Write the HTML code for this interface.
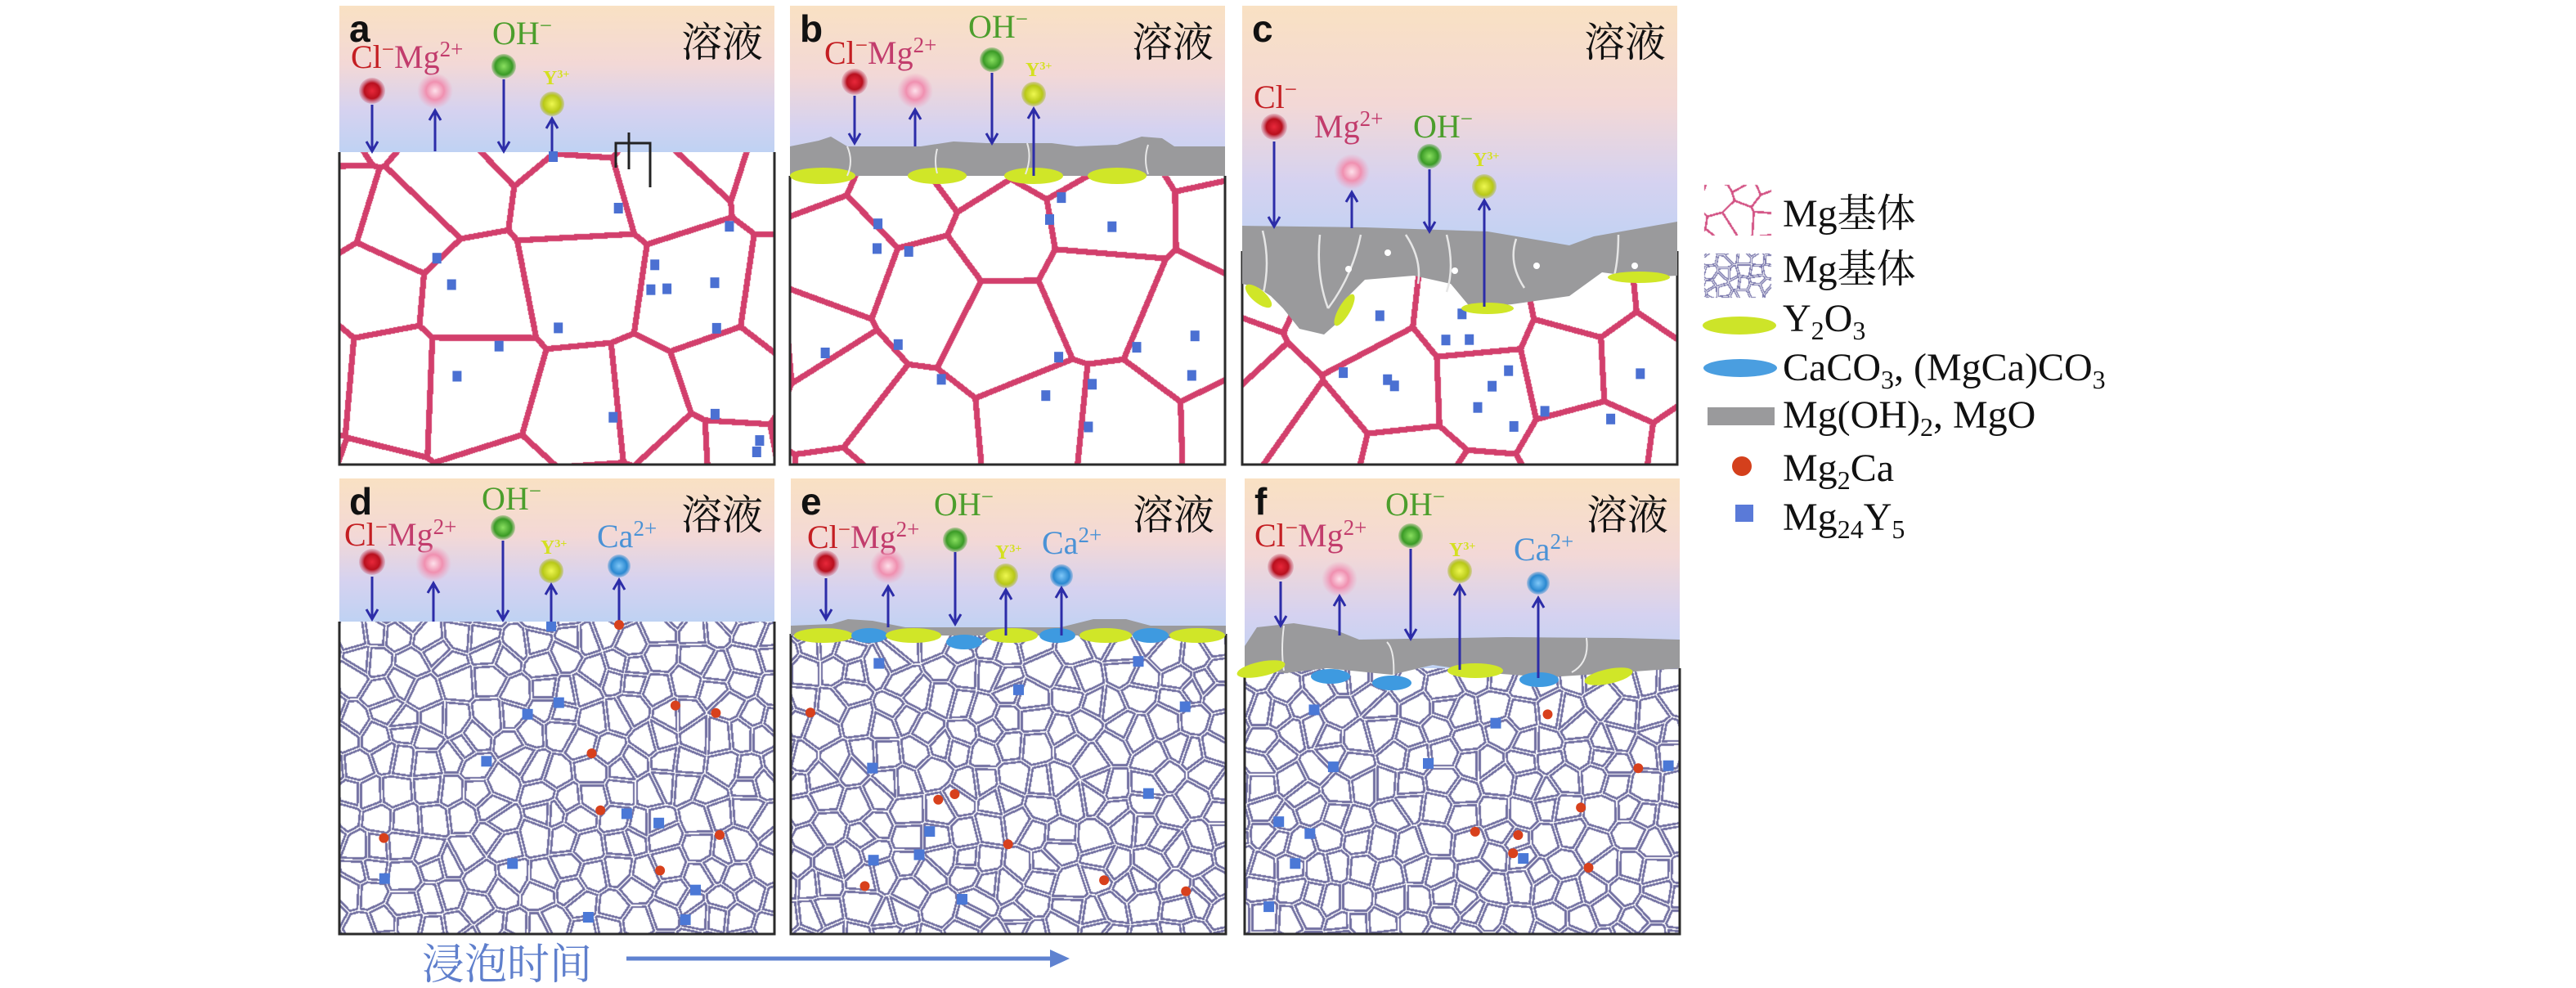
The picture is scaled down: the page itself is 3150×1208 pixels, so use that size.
<!DOCTYPE html>
<html><head><meta charset="utf-8">
<style>
html,body{margin:0;padding:0;background:#fff;}
#wrap{position:relative;width:3150px;height:1208px;}
#cv,#s{position:absolute;left:0;top:0;display:block;}
text{font-family:"Liberation Serif","Noto Serif CJK SC",serif;}
.cjk{font-family:"Liberation Serif","Noto Serif CJK SC",serif;}
.lt{font-family:"Liberation Sans",sans-serif;font-weight:bold;}
</style></head>
<body>
<div id="wrap">
<canvas id="cv" width="3150" height="1208"></canvas>
<svg id="s" width="3150" height="1208" viewBox="0 0 3150 1208" xmlns="http://www.w3.org/2000/svg">
<defs>
<linearGradient id="sol" x1="0" y1="0" x2="0" y2="1">
<stop offset="0" stop-color="#f9e1c3"/><stop offset="0.4" stop-color="#f3d8d6"/>
<stop offset="0.72" stop-color="#d5d2f0"/><stop offset="1" stop-color="#bfd2f3"/>
</linearGradient>
<radialGradient id="gCl"><stop offset="0" stop-color="#e8283a"/><stop offset="0.6" stop-color="#b8101e"/><stop offset="1" stop-color="#c04060" stop-opacity="0.2"/></radialGradient>
<radialGradient id="gMg"><stop offset="0" stop-color="#fde0ea"/><stop offset="0.5" stop-color="#f090b0"/><stop offset="1" stop-color="#f0a0c0" stop-opacity="0"/></radialGradient>
<radialGradient id="gOH"><stop offset="0" stop-color="#8ae060"/><stop offset="0.7" stop-color="#3a9a26"/><stop offset="1" stop-color="#3a9a26" stop-opacity="0.3"/></radialGradient>
<radialGradient id="gY"><stop offset="0" stop-color="#eef850"/><stop offset="0.7" stop-color="#b8c818"/><stop offset="1" stop-color="#a0b010" stop-opacity="0.3"/></radialGradient>
<radialGradient id="gCa"><stop offset="0" stop-color="#80c8f8"/><stop offset="0.7" stop-color="#2a88d0"/><stop offset="1" stop-color="#2a88d0" stop-opacity="0.3"/></radialGradient>
</defs>
<g id="content"></g>
</svg>
</div>
<script>
(function(){
var out=[];
var seed=7;
function rnd(){seed=(seed*16807)%2147483647;return (seed-1)/2147483646;}
function P(s){out.push(s);}
var W=532;
var panels=[
 {id:'a',x:415,y:7,h:561,row:1},
 {id:'b',x:966,y:7,h:561,row:1},
 {id:'c',x:1519,y:7,h:561,row:1},
 {id:'d',x:415,y:585,h:557,row:2},
 {id:'e',x:967,y:585,h:557,row:2},
 {id:'f',x:1522,y:585,h:557,row:2}
];
var surf={a:179,b:208,c:300,d:175,e:190,f:232};
var cv=document.getElementById('cv'),ctx=cv.getContext('2d');
ctx.fillStyle='#fff';ctx.fillRect(0,0,3150,1208);

function voronoi(x0,y0,w,h,cs,col,tmin,tmax){
 var gx=Math.ceil(w/cs)+4,gy=Math.ceil(h/cs)+4,S=[];
 for(var j=0;j<gy;j++){S[j]=[];for(var i=0;i<gx;i++){
  S[j][i]=[(i-2+0.1+rnd()*0.8)*cs,(j-2+0.1+rnd()*0.8)*cs];}}
 var img=ctx.getImageData(x0,y0,w,h),d=img.data;
 for(var y=0;y<h;y++)for(var x=0;x<w;x++){
  var ci=Math.floor(x/cs)+2,cj=Math.floor(y/cs)+2,best=1e9,bs=null,cand=[];
  for(var dj=-2;dj<=2;dj++)for(var di=-2;di<=2;di++){var s=S[cj+dj]&&S[cj+dj][ci+di];if(!s)continue;cand.push(s);
   var q=(x-s[0])*(x-s[0])+(y-s[1])*(y-s[1]);if(q<best){best=q;bs=s;}}
  var t=1e9;
  for(var k=0;k<cand.length;k++){var s=cand[k];if(s===bs)continue;
   var q=(x-s[0])*(x-s[0])+(y-s[1])*(y-s[1]);
   var L=Math.sqrt((s[0]-bs[0])*(s[0]-bs[0])+(s[1]-bs[1])*(s[1]-bs[1]));
   var tt=(q-best)/(2*L);if(tt<t)t=tt;}
  if(t>=tmin&&t<=tmax){var o=(y*w+x)*4;d[o]=col[0];d[o+1]=col[1];d[o+2]=col[2];d[o+3]=255;}
 }
 ctx.putImageData(img,x0,y0);
}
function bigGrains(px,py,top,h,id){
 voronoi(px,py+top,W,h-top,115,[210,63,108],0,3.6);
 for(var i=0;i<16;i++){var x=px+15+rnd()*(W-35),y=py+top+15+rnd()*(h-top-35);
  P('<rect x="'+x.toFixed(1)+'" y="'+y.toFixed(1)+'" width="11" height="13" fill="#4b70d2"/>');}
}
function smallGrains(px,py,top,h,id){
 voronoi(px,py+top,W,h-top,32,[112,110,160],0.7,3.4);
 for(var i=0;i<10;i++){var x=px+15+rnd()*(W-35),y=py+top+20+rnd()*(h-top-40);
  P('<rect x="'+x.toFixed(1)+'" y="'+y.toFixed(1)+'" width="13" height="13" fill="#4b78d6"/>');}
 for(var i=0;i<7;i++){var x=px+20+rnd()*(W-40),y=py+top+40+rnd()*(h-top-60);
  P('<circle cx="'+x.toFixed(1)+'" cy="'+y.toFixed(1)+'" r="6" fill="#d8401c"/>');}
}
function ball(type,x,y){var r={Cl:16,Mg:22,OH:15,Y:15,Ca:14}[type];
 P('<circle cx="'+x+'" cy="'+y+'" r="'+r+'" fill="url(#g'+type+')"/>');}
function arrow(x,y1,y2){
 P('<line x1="'+x+'" y1="'+y1+'" x2="'+x+'" y2="'+y2+'" stroke="#2c2ca8" stroke-width="3"/>');
 var dir=y2>y1?-1:1;
 P('<path d="M'+(x-7)+' '+(y2+dir*12)+'L'+x+' '+y2+'L'+(x+7)+' '+(y2+dir*12)+'" stroke="#2c2ca8" stroke-width="3" fill="none"/>');}
function lbl(t,x,y,col,size){P('<text x="'+x+'" y="'+y+'" fill="'+col+'" font-size="'+(size||40)+'">'+t+'</text>');}
var CLMG='<tspan fill="#c41e22">Cl</tspan><tspan fill="#c41e22" dy="-14" font-size="27">−</tspan><tspan fill="#c23c6c" dy="14">Mg</tspan><tspan fill="#c23c6c" dy="-14" font-size="27">2+</tspan>';
var OH='OH<tspan dy="-14" font-size="27">−</tspan>';
var CA='Ca<tspan dy="-14" font-size="27">2+</tspan>';
function Y3(x,y){P('<text x="'+x+'" y="'+y+'" fill="#d4e020" font-size="24" font-weight="bold">Y<tspan dy="-8" font-size="14">3+</tspan></text>');}

panels.forEach(function(p){
 var s=surf[p.id],X=p.x,Y=p.y;
 P('<rect x="'+X+'" y="'+Y+'" width="'+W+'" height="'+s+'" fill="url(#sol)"/>');
 if(p.row==1) bigGrains(X,Y,s,p.h,p.id); else smallGrains(X,Y,s,p.h,p.id);
 P('<path d="M'+X+' '+(Y+s)+'V'+(Y+p.h)+'H'+(X+W)+'V'+(Y+s)+'" stroke="#2a2a2a" stroke-width="3" fill="none"/>');
 P('<text x="'+(X+12)+'" y="'+(Y+44)+'" class="lt" font-size="46" fill="#111">'+p.id+'</text>');
 P('<text x="'+(X+W-14)+'" y="'+(Y+62)+'" class="cjk" text-anchor="end" font-size="50" fill="#111">溶液</text>');
});

(function(){var X=415,Y=7;
 lbl(CLMG,X+14,Y+76,'#c41e22');lbl(OH,X+187,Y+47,'#4c9e2c');Y3(X+249,Y+96);
 ball('Cl',X+40,Y+104);ball('Mg',X+117,Y+104);ball('OH',X+201,Y+74);ball('Y',X+260,Y+120);
 arrow(X+40,Y+121,Y+178);arrow(X+117,Y+178,Y+128);arrow(X+201,Y+90,Y+178);arrow(X+260,Y+178,Y+138);
 P('<rect x="'+(X+256)+'" y="'+(Y+178)+'" width="11" height="13" fill="#4b70d2"/>');
 P('<path d="M'+(X+338)+' '+(Y+198)+'V'+(Y+168)+'H'+(X+380)+'V'+(Y+222)+'M'+(X+354)+' '+(Y+155)+'V'+(Y+200)+'" stroke="#222" stroke-width="3" fill="none"/>');
})();
(function(){var X=966,Y=7;
 lbl(CLMG,X+42,Y+71,'#c41e22');lbl(OH,X+218,Y+39,'#4c9e2c');Y3(X+288,Y+86);
 P('<path d="M'+X+' '+(Y+172)+'L'+(X+35)+' '+(Y+165)+'L'+(X+50)+' '+(Y+160)+'L'+(X+70)+' '+(Y+172)+'L'+(X+160)+' '+(Y+172)+'L'+(X+200)+' '+(Y+166)+'L'+(X+240)+' '+(Y+168)+'L'+(X+320)+' '+(Y+168)+'L'+(X+350)+' '+(Y+172)+'L'+(X+400)+' '+(Y+170)+'L'+(X+430)+' '+(Y+160)+'L'+(X+455)+' '+(Y+162)+'L'+(X+470)+' '+(Y+172)+'L'+(X+W)+' '+(Y+172)+'V'+(Y+208)+'H'+X+'Z" fill="#9a9a9c"/>');
 [[40,40],[180,36],[298,36],[400,36]].forEach(function(e){P('<ellipse cx="'+(X+e[0])+'" cy="'+(Y+208)+'" rx="'+e[1]+'" ry="10" fill="#d0e628"/>');});
 P('<path d="M'+(X+70)+' '+(Y+172)+'q8 18 0 36M'+(X+180)+' '+(Y+175)+'q-4 15 0 30M'+(X+290)+' '+(Y+168)+'q6 18 -2 38M'+(X+438)+' '+(Y+170)+'q-6 18 0 36" stroke="#e8e8e8" stroke-width="2" fill="none"/>');
 ball('Cl',X+79,Y+93);ball('Mg',X+153,Y+104);ball('OH',X+247,Y+66);ball('Y',X+298,Y+108);
 arrow(X+79,Y+110,Y+168);arrow(X+153,Y+172,Y+127);arrow(X+247,Y+82,Y+168);arrow(X+298,Y+208,Y+126);
})();
(function(){var X=1519,Y=7;
 lbl('Cl<tspan dy="-14" font-size="27">−</tspan>',X+14,Y+125,'#c41e22');
 lbl('Mg<tspan dy="-14" font-size="27">2+</tspan>',X+88,Y+161,'#c23c6c');
 lbl(OH,X+209,Y+161,'#4c9e2c');Y3(X+282,Y+196);
 P('<path d="M'+X+' '+(Y+269)+'L'+(X+150)+' '+(Y+271)+'L'+(X+300)+' '+(Y+276)+'L'+(X+400)+' '+(Y+293)+'L'+(X+430)+' '+(Y+282)+'L'+(X+532)+' '+(Y+264)+'V'+(Y+330)+'L'+(X+495)+' '+(Y+332)+'L'+(X+470)+' '+(Y+330)+'L'+(X+440)+' '+(Y+326)+'L'+(X+400)+' '+(Y+355)+'L'+(X+330)+' '+(Y+365)+'L'+(X+280)+' '+(Y+370)+'L'+(X+255)+' '+(Y+340)+'L'+(X+210)+' '+(Y+330)+'L'+(X+150)+' '+(Y+335)+'L'+(X+130)+' '+(Y+355)+'L'+(X+125)+' '+(Y+380)+'L'+(X+100)+' '+(Y+402)+'L'+(X+70)+' '+(Y+395)+'L'+(X+50)+' '+(Y+370)+'L'+(X+35)+' '+(Y+355)+'L'+(X+20)+' '+(Y+345)+'L'+X+' '+(Y+340)+'Z" fill="#9a9a9c"/>');
 P('<path d="M'+(X+25)+' '+(Y+275)+'q10 40 0 80M'+(X+95)+' '+(Y+280)+'q-5 50 10 90M'+(X+145)+' '+(Y+280)+'q-10 50 -40 90M'+(X+200)+' '+(Y+280)+'q20 30 15 60M'+(X+250)+' '+(Y+280)+'q10 40 0 70M'+(X+335)+' '+(Y+285)+'q-10 30 10 60M'+(X+460)+' '+(Y+280)+'q0 30 -5 50" stroke="#e6e6e6" stroke-width="2.5" fill="none"/>');
 [[178,302],[130,322],[260,324],[360,318],[480,318]].forEach(function(e){P('<circle cx="'+(X+e[0])+'" cy="'+(Y+e[1])+'" r="4" fill="#fff"/>');});
 P('<ellipse cx="'+(X+20)+'" cy="'+(Y+355)+'" rx="20" ry="8" transform="rotate(40 '+(X+20)+' '+(Y+355)+')" fill="#d0e628"/>');
 P('<ellipse cx="'+(X+125)+'" cy="'+(Y+372)+'" rx="22" ry="7" transform="rotate(-60 '+(X+125)+' '+(Y+372)+')" fill="#d0e628"/>');
 P('<ellipse cx="'+(X+300)+'" cy="'+(Y+370)+'" rx="32" ry="7" fill="#d0e628"/>');
 P('<ellipse cx="'+(X+485)+'" cy="'+(Y+332)+'" rx="38" ry="7" fill="#d0e628"/>');
 ball('Cl',X+39,Y+148);ball('Mg',X+134,Y+203);ball('OH',X+229,Y+184);ball('Y',X+296,Y+221);
 arrow(X+39,Y+166,Y+270);arrow(X+134,Y+272,Y+228);arrow(X+229,Y+200,Y+276);arrow(X+296,Y+368,Y+238);
})();
(function(){var X=415,Y=585;
 lbl(CLMG,X+6,Y+82,'#c41e22');lbl(OH,X+174,Y+38,'#4c9e2c');Y3(X+246,Y+92);lbl(CA,X+315,Y+84,'#4a92d6');
 ball('Cl',X+40,Y+102);ball('Mg',X+115,Y+104);ball('OH',X+200,Y+60);ball('Y',X+259,Y+113);ball('Ca',X+342,Y+107);
 arrow(X+40,Y+120,Y+172);arrow(X+115,Y+175,Y+128);arrow(X+200,Y+76,Y+173);arrow(X+259,Y+175,Y+130);arrow(X+342,Y+175,Y+124);
 P('<rect x="'+(X+253)+'" y="'+(Y+175)+'" width="12" height="12" fill="#4b78d6"/><circle cx="'+(X+342)+'" cy="'+(Y+179)+'" r="6" fill="#d8401c"/>');
})();
(function(){var X=967,Y=585;
 lbl(CLMG,X+20,Y+85,'#c41e22');lbl(OH,X+175,Y+45,'#4c9e2c');Y3(X+250,Y+98);lbl(CA,X+307,Y+92,'#4a92d6');
 P('<path d="M'+X+' '+(Y+180)+'L'+(X+50)+' '+(Y+178)+'L'+(X+70)+' '+(Y+172)+'L'+(X+100)+' '+(Y+174)+'L'+(X+140)+' '+(Y+182)+'L'+(X+330)+' '+(Y+182)+'L'+(X+370)+' '+(Y+172)+'L'+(X+410)+' '+(Y+172)+'L'+(X+440)+' '+(Y+180)+'L'+(X+W)+' '+(Y+180)+'V'+(Y+192)+'H'+X+'Z" fill="#9a9a9c"/>');
 [[40,'#d0e628',36],[96,'#3e9ae0',22],[150,'#d0e628',34],[212,'#3e9ae0',22],[270,'#d0e628',32],[326,'#3e9ae0',22],[385,'#d0e628',32],[440,'#3e9ae0',22],[497,'#d0e628',34]].forEach(function(e,i){
  P('<ellipse cx="'+(X+e[0])+'" cy="'+(Y+(i==3?200:192))+'" rx="'+e[2]+'" ry="9" fill="'+e[1]+'"/>');});
 ball('Cl',X+43,Y+104);ball('Mg',X+119,Y+107);ball('OH',X+201,Y+75);ball('Y',X+263,Y+119);ball('Ca',X+331,Y+119);
 arrow(X+43,Y+122,Y+172);arrow(X+119,Y+182,Y+132);arrow(X+201,Y+90,Y+178);arrow(X+263,Y+192,Y+136);arrow(X+331,Y+192,Y+134);
})();
(function(){var X=1522,Y=585;
 lbl(CLMG,X+12,Y+83,'#c41e22');lbl(OH,X+172,Y+45,'#4c9e2c');Y3(X+250,Y+95);lbl(CA,X+329,Y+100,'#4a92d6');
 P('<path d="M'+X+' '+(Y+205)+'L'+(X+15)+' '+(Y+182)+'L'+(X+60)+' '+(Y+177)+'L'+(X+110)+' '+(Y+185)+'L'+(X+140)+' '+(Y+197)+'L'+(X+320)+' '+(Y+194)+'L'+(X+460)+' '+(Y+195)+'L'+(X+W)+' '+(Y+197)+'V'+(Y+232)+'L'+(X+450)+' '+(Y+238)+'L'+(X+370)+' '+(Y+243)+'L'+(X+300)+' '+(Y+238)+'L'+(X+230)+' '+(Y+228)+'L'+(X+180)+' '+(Y+240)+'L'+(X+100)+' '+(Y+232)+'L'+(X+50)+' '+(Y+238)+'L'+X+' '+(Y+230)+'Z" fill="#9a9a9c"/>');
 P('<path d="M'+(X+48)+' '+(Y+180)+'q-4 30 0 55M'+(X+174)+' '+(Y+200)+'q10 10 8 45M'+(X+418)+' '+(Y+195)+'q4 30 -18 42" stroke="#eaeaea" stroke-width="2" fill="none"/>');
 [[20,233,'#d0e628',30,-12],[105,242,'#3e9ae0',24,0],[180,250,'#3e9ae0',24,0],[282,235,'#d0e628',34,0],[360,246,'#3e9ae0',24,0],[445,242,'#d0e628',30,-12]].forEach(function(e){
  P('<ellipse cx="'+(X+e[0])+'" cy="'+(Y+e[1])+'" rx="'+e[3]+'" ry="9" transform="rotate('+e[4]+' '+(X+e[0])+' '+(Y+e[1])+')" fill="'+e[2]+'"/>');});
 ball('Cl',X+44,Y+108);ball('Mg',X+116,Y+123);ball('OH',X+203,Y+70);ball('Y',X+263,Y+113);ball('Ca',X+359,Y+128);
 arrow(X+44,Y+126,Y+180);arrow(X+116,Y+192,Y+144);arrow(X+203,Y+86,Y+196);arrow(X+263,Y+234,Y+131);arrow(X+359,Y+244,Y+146);
})();

(function(){
 var LX=2180;
 voronoi(2084,226,82,62,30,[210,80,130],0,1.3);
 voronoi(2084,310,82,54,14,[118,116,170],0.4,1.8);
 P('<ellipse cx="2127" cy="398" rx="45" ry="11" fill="#cde429"/>');
 P('<ellipse cx="2128" cy="450" rx="45" ry="11" fill="#4a9ee0"/>');
 P('<rect x="2088" y="498" width="82" height="22" fill="#9a9a9c"/>');
 P('<circle cx="2130" cy="570" r="12" fill="#d4401c"/>');
 P('<rect x="2122" y="617" width="22" height="21" fill="#5a7ad8"/>');
 var st='font-size="48" fill="#111"';
 P('<text x="'+LX+'" y="277" '+st+'>Mg基体</text>');
 P('<text x="'+LX+'" y="345" '+st+'>Mg基体</text>');
 P('<text x="'+LX+'" y="405" '+st+'>Y<tspan dy="10" font-size="32">2</tspan><tspan dy="-10">O</tspan><tspan dy="10" font-size="32">3</tspan></text>');
 P('<text x="'+LX+'" y="465" '+st+'>CaCO<tspan dy="10" font-size="32">3</tspan><tspan dy="-10">, (MgCa)CO</tspan><tspan dy="10" font-size="32">3</tspan></text>');
 P('<text x="'+LX+'" y="523" '+st+'>Mg(OH)<tspan dy="10" font-size="32">2</tspan><tspan dy="-10">, MgO</tspan></text>');
 P('<text x="'+LX+'" y="588" '+st+'>Mg<tspan dy="10" font-size="32">2</tspan><tspan dy="-10">Ca</tspan></text>');
 P('<text x="'+LX+'" y="648" '+st+'>Mg<tspan dy="10" font-size="32">24</tspan><tspan dy="-10">Y</tspan><tspan dy="10" font-size="32">5</tspan></text>');
})();
P('<text x="516" y="1197" font-size="52" fill="#5f7fcc" class="cjk">浸泡时间</text>');
P('<line x1="766" y1="1172" x2="1296" y2="1172" stroke="#5f82d0" stroke-width="5"/>');
P('<path d="M1284 1161L1308 1172L1284 1183Z" fill="#5f82d0"/>');

document.getElementById('content').innerHTML=out.join('');
})();
</script>
</body></html>
